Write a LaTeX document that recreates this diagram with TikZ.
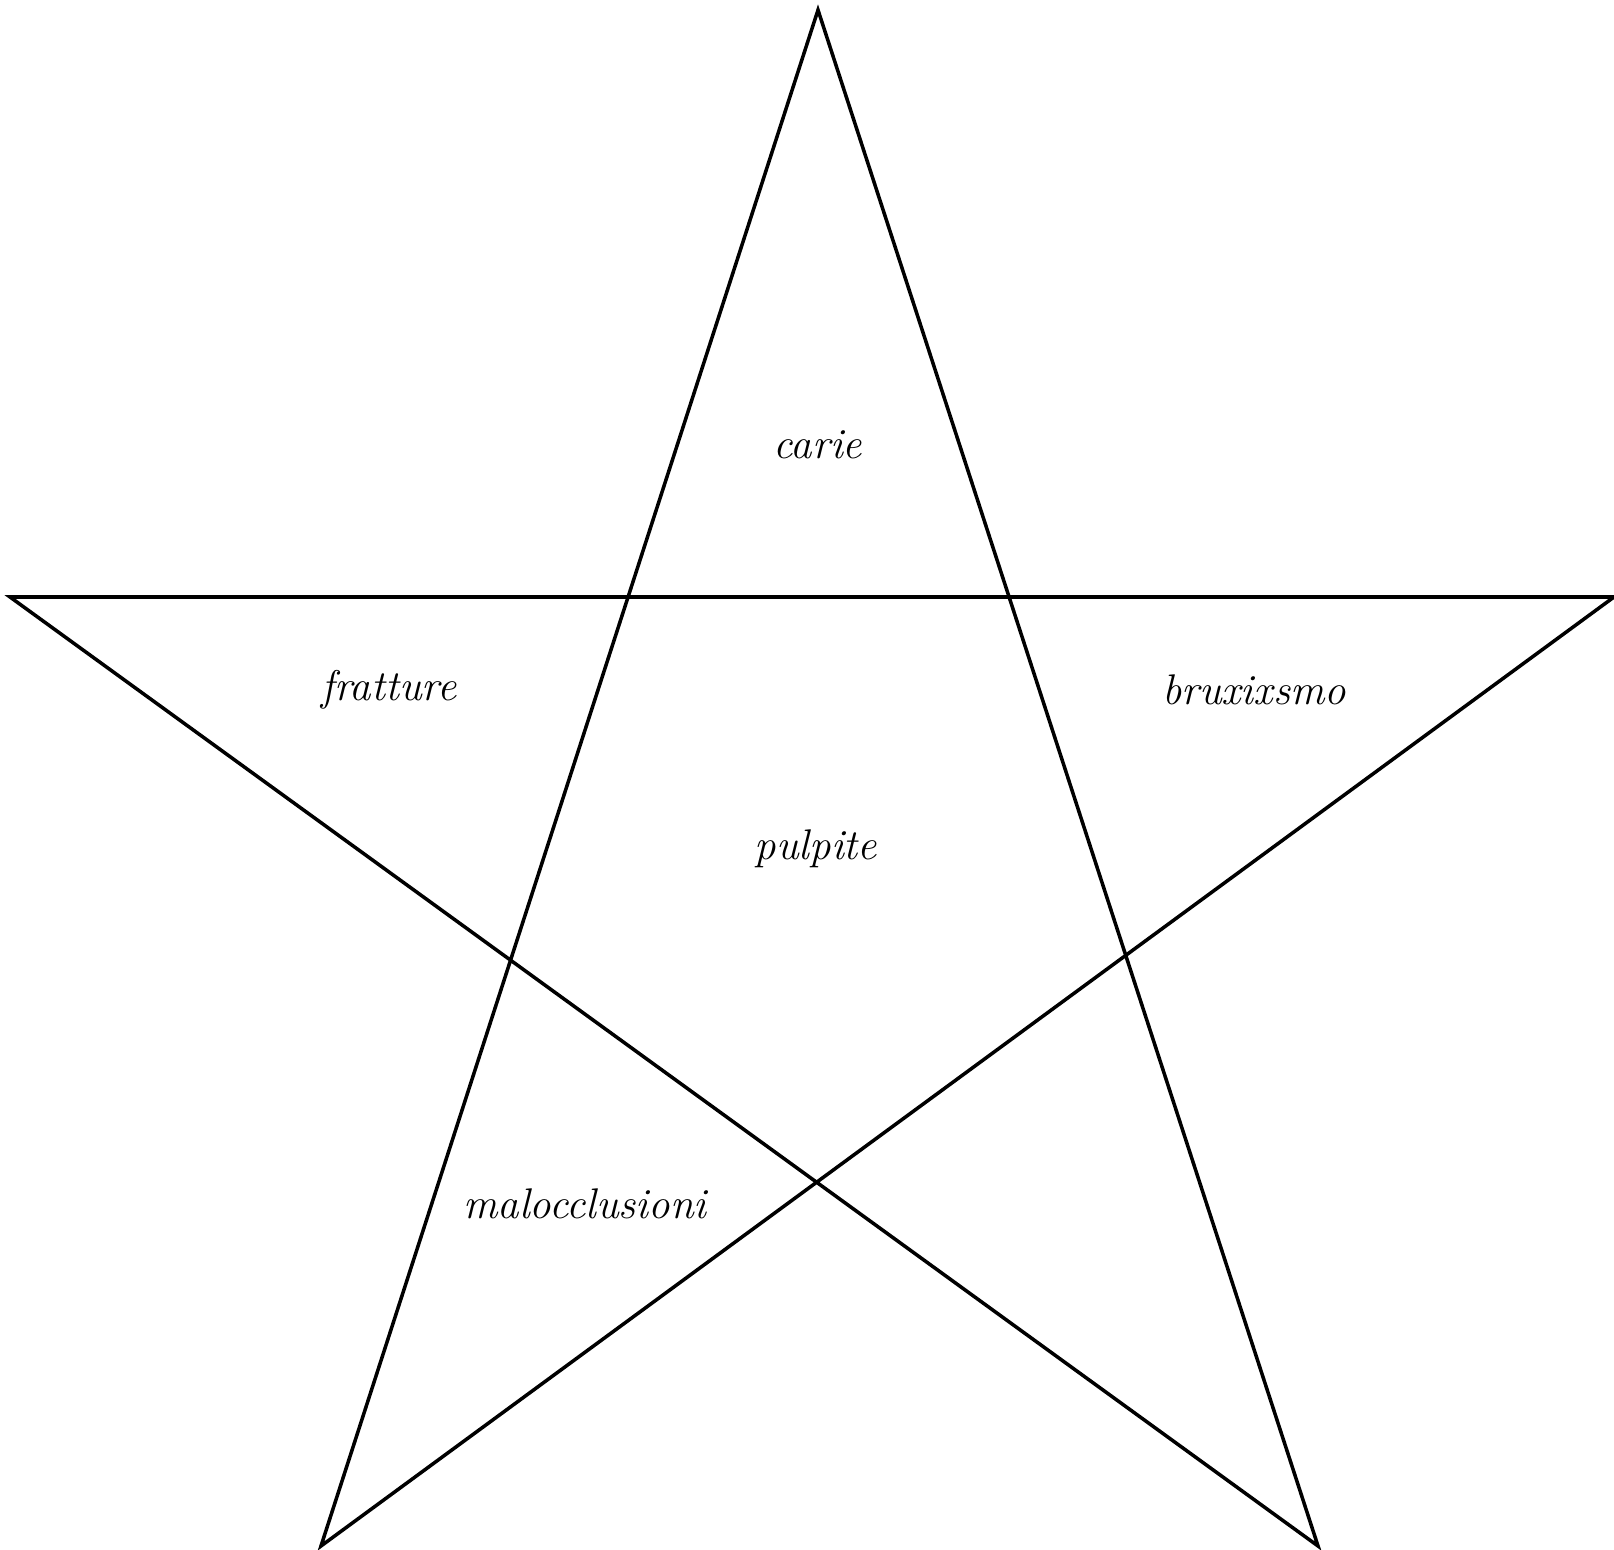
\documentclass[tikz,border=0pt]{standalone}
\usepackage{tikz}

\begin{document}
\begin{tikzpicture}[
    line width=1pt, line join=miter,
    disease/.style={font=\fontsize{12.2}{14}\selectfont\itshape, inner sep=1pt}
  ]
  \useasboundingbox (0,0) rectangle (16.14,15.49);

  % star tips
  \coordinate (top) at (8.18,15.39);
  \coordinate (lt) at (0.10,9.52);
  \coordinate (rt) at (16.14,9.52);
  \coordinate (bl) at (3.21,0.03);
  \coordinate (br) at (13.18,0.03);

  \draw (top) -- (bl) -- (rt) -- (lt) -- (br) -- cycle;

  \node[disease] (carie) at (8.18,11.04) {carie};
  \node[disease] (fratture) at (3.89,8.59) {fratture};
  \node[disease] (bruxismo) at (12.54,8.59) {bruxixsmo};
  \node[disease] (pulpite) at (8.16,7.00) {pulpite};
  \node[disease] (malocc) at (5.85,3.45) {malocclusioni};
\end{tikzpicture}
\end{document}
